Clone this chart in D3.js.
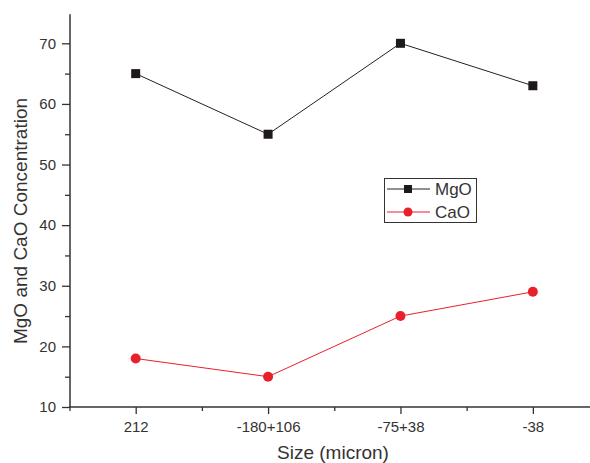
<!DOCTYPE html>
<html><head><meta charset="utf-8">
<script src="https://cdn.jsdelivr.net/npm/d3@7/dist/d3.min.js"></script>
<style>body{margin:0;background:#fff}</style>
</head><body>
<svg id="c" width="590" height="463"></svg>
<script>
const categories = ["212", "-180+106", "-75+38", "-38"];
const mgo = [65, 55, 70, 63];
const cao = [18, 15, 25, 29];
const yTicks = [10, 20, 30, 40, 50, 60, 70];

const svg = d3.select("#c");
const font = "Liberation Sans, Arial, sans-serif";
const x = d3.scaleLinear().domain([-0.5, 3.9]).range([69.5, 652]);
const y = d3.scaleLinear().domain([10, 75]).range([407, 13]);
const ink = "#333";

// y axis
const yAxis = svg.append("g").attr("transform", "translate(70,0)")
  .call(d3.axisLeft(y).tickValues(d3.range(10, 75, 5)).tickSize(8).tickFormat(d => yTicks.includes(d) ? d : ""));
yAxis.select(".domain").attr("stroke", ink).attr("stroke-width", 1.5).attr("d", `M0,${y(10)}V${y(74.8)}`);
yAxis.selectAll(".tick line").attr("stroke", ink).attr("stroke-width", 1.3)
  .attr("x2", d => yTicks.includes(d) ? -8 : -5);
yAxis.selectAll(".tick text").attr("font-family", font).attr("font-size", 15).attr("fill", ink).attr("x", -14);

// x axis
const xAxis = svg.append("g").attr("transform", "translate(0,407)")
  .call(d3.axisBottom(x).tickValues([-0.5, 0, 0.5, 1, 1.5, 2, 2.5, 3, 3.5]).tickSize(7)
    .tickFormat(d => Number.isInteger(d) ? categories[d] : ""));
xAxis.select(".domain").attr("stroke", ink).attr("stroke-width", 1.5).attr("d", `M69,0H590`);
xAxis.selectAll(".tick line").attr("stroke", ink).attr("stroke-width", 1.3)
  .attr("y2", d => Number.isInteger(d) ? 7 : 4);
xAxis.selectAll(".tick text").attr("font-family", font).attr("font-size", 15).attr("fill", ink).attr("y", 14);

// axis titles
svg.append("text").attr("x", 333).attr("y", 459).attr("text-anchor", "middle")
  .attr("font-family", font).attr("font-size", 19).attr("fill", ink).text("Size (micron)");
svg.append("text").attr("transform", `translate(27,221) rotate(-90)`).attr("text-anchor", "middle")
  .attr("font-family", font).attr("font-size", 19).attr("fill", ink).text("MgO and CaO Concentration");

const line = d3.line().x((d, i) => x(i)).y(d => y(d));
svg.append("path").datum(mgo).attr("d", line).attr("fill", "none").attr("stroke", "#222").attr("stroke-width", 1);
svg.append("path").datum(cao).attr("d", line).attr("fill", "none").attr("stroke", "#e8202a").attr("stroke-width", 1);

svg.selectAll(".sq").data(mgo).enter().append("rect")
  .attr("x", (d, i) => x(i) - 4.5).attr("y", d => y(d) - 4.5).attr("width", 9).attr("height", 9).attr("fill", "#1f1a1a");
svg.selectAll(".ci").data(cao).enter().append("circle")
  .attr("cx", (d, i) => x(i)).attr("cy", d => y(d)).attr("r", 5).attr("fill", "#e8202a");

// legend
const lg = svg.append("g");
lg.append("rect").attr("x", 384.5).attr("y", 178.5).attr("width", 92).attr("height", 44)
  .attr("fill", "#fff").attr("stroke", ink).attr("stroke-width", 1);
lg.append("line").attr("x1", 387).attr("x2", 430).attr("y1", 189).attr("y2", 189).attr("stroke", "#222");
lg.append("rect").attr("x", 404).attr("y", 185).attr("width", 8).attr("height", 8).attr("fill", "#1f1a1a");
lg.append("text").attr("x", 435).attr("y", 195).attr("font-family", font).attr("font-size", 17).attr("fill", ink).text("MgO");
lg.append("line").attr("x1", 387).attr("x2", 430).attr("y1", 212).attr("y2", 212).attr("stroke", "#e8202a");
lg.append("circle").attr("cx", 408).attr("cy", 212).attr("r", 4.5).attr("fill", "#e8202a");
lg.append("text").attr("x", 435).attr("y", 218).attr("font-family", font).attr("font-size", 17).attr("fill", ink).text("CaO");
</script>
</body></html>
